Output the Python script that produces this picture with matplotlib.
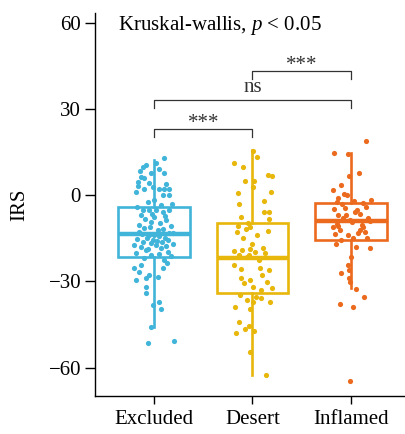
import matplotlib.pyplot as plt

plt.rcParams['font.family'] = ['Liberation Serif', 'DejaVu Serif']
plt.rcParams['mathtext.fontset'] = 'custom'
plt.rcParams['mathtext.it'] = 'Liberation Serif:italic'
plt.rcParams['mathtext.rm'] = 'Liberation Serif'

groups = ['Excluded', 'Desert', 'Inflamed']
colors = ['#41B4DA', '#E8B70C', '#EC6A1E']

# box statistics
q1 = [-21.5, -34.0, -15.6]
med = [-13.6, -22.0, -9.0]
q3 = [-4.2, -9.8, -2.9]
whis_lo = [-46.0, -62.6, -32.5]
whis_hi = [12.2, 15.6, 14.5]

# jittered points: horizontal offset, IRS value
excl_dx = [0.10, -0.11, 0.05, 0.10, -0.03, -0.13, -0.16, -0.10, -0.05, -0.01, -0.18, -0.10, 0.05, 0.10,
           0.15, 0.09, 0.15, 0.00, -0.11, -0.05, 0.02, 0.09, 0.15, -0.13, 0.00, -0.03, 0.12, -0.10,
           0.04, -0.15, 0.15, -0.05, 0.05, 0.19, -0.20, -0.11, -0.01, 0.02, 0.07, -0.08, 0.14, -0.03,
           0.17, -0.20, -0.13, -0.18, -0.08, 0.04, 0.09, 0.10, -0.05, -0.08, -0.08, 0.05, -0.01, 0.07,
           -0.03, -0.06, 0.20, -0.14, -0.08, 0.02, -0.16, 0.12, -0.06, 0.07, -0.17, 0.18, -0.02, 0.11,
           -0.09, 0.06, -0.15, 0.17, -0.04, 0.09, -0.12, 0.00, 0.11, -0.07, 0.14, -0.17, 0.03, -0.03,
           0.08, -0.13, 0.12, -0.06, 0.19, -0.18, 0.05, -0.10, 0.13, -0.15]
excl_y = [12.8, 9.8, 9.0, 7.6, 7.6, 6.3, 4.5, 5.9, 4.2, 2.8, 1.0, 2.0, 2.0, 2.0,
          2.0, 0.0, 0.0, -1.7, -5.2, -5.2, -5.2, -5.9, -5.2, -7.0, -7.6, -9.4, -8.7, -11.5,
          -12.2, -12.9, -13.2, -13.9, -14.3, -13.2, -17.4, -16.3, -15.6, -17.4, -18.4, -19.1, -19.8, -20.9,
          -21.2, -25.4, -24.3, -29.5, -28.8, -28.5, -25.4, -22.6, -27.8, -32.0, -34.0, -37.2, -38.2, -39.6,
          -45.8, -51.5, -50.7, 8.3, 10.5, 11.0, 3.3, 4.0, -2.5, -3.3, -4.0, -3.0, -6.5, -7.2,
          -8.2, -9.9, -10.5, -10.8, -11.0, -11.8, -13.5, -14.0, -14.8, -15.0, -15.8, -15.2, -16.0, -16.8,
          -16.5, -18.0, -17.6, -18.8, -16.9, -20.0, -20.5, -22.0, -23.8, -26.8]

des_dx = [0.01, 0.05, -0.19, -0.10, 0.16, 0.20, -0.08, 0.02, 0.01, -0.15, 0.19, -0.14, 0.12, 0.12,
          0.17, -0.12, 0.17, -0.15, -0.05, -0.03, -0.07, -0.16, 0.16, -0.19, -0.11, -0.03, 0.03, 0.11,
          0.00, -0.14, -0.04, -0.19, -0.12, 0.08, 0.17, 0.10, -0.12, -0.09, -0.02, 0.15, 0.01, 0.20,
          -0.13, 0.04, 0.09, 0.01, 0.18, -0.18, -0.02, -0.14, -0.04, -0.08, 0.02, -0.17, -0.03, 0.14,
          -0.06, 0.07, 0.13, -0.10, 0.05, 0.09, -0.06]
des_y = [15.3, 13.2, 11.1, 9.7, 7.0, 6.6, 4.9, 4.9, 2.8, 0.7, 1.0, -3.1, -2.1, -5.9,
         -5.9, -7.6, -8.3, -10.8, -9.7, -11.1, -11.8, -12.9, -12.5, -19.5, -19.1, -18.8, -19.8, -18.4,
         -17.0, -20.9, -20.9, -24.3, -25.7, -25.4, -26.0, -27.8, -28.8, -30.6, -29.5, -30.2, -32.0, -32.3,
         -34.8, -35.5, -35.8, -37.2, -37.2, -38.9, -39.6, -44.1, -45.5, -46.6, -47.3, -48.0, -54.6, -62.6,
         -21.5, -22.5, -20.0, -15.0, -14.0, -33.0, -36.5]

inf_dx = [0.15, -0.17, -0.03, 0.08, -0.02, -0.10, -0.18, -0.07, -0.04, -0.13, -0.14, 0.12, 0.20, -0.09,
          -0.17, 0.06, 0.15, 0.04, -0.13, -0.08, 0.17, -0.14, -0.01, 0.11, -0.18, -0.13, 0.12, 0.14,
          -0.03, 0.07, 0.02, -0.10, -0.15, 0.05, 0.19, -0.03, -0.10, -0.02, -0.01, 0.05, 0.13, -0.11,
          0.02, -0.01, 0.09, -0.05, 0.01, 0.19, -0.11, 0.09, -0.16, 0.16, -0.06, 0.03, 0.00, -0.02]
inf_y = [18.8, 14.6, 14.3, 7.6, 6.6, 3.5, 1.7, 0.3, 0.0, -1.0, -2.4, -2.8, -1.7, -3.1,
         -4.9, -5.2, -4.2, -5.9, -7.0, -8.0, -8.0, -10.0, -8.7, -10.4, -11.0, -10.8, -11.0, -12.9,
         -13.9, -13.2, -14.9, -15.6, -17.0, -18.0, -18.4, -24.3, -27.1, -28.8, -30.2, -32.7, -35.5, -37.9,
         -38.9, -64.7, -6.5, -6.8, -9.5, -9.0, -12.0, -12.2, -13.5, -15.0, -4.5, -2.0, -21.5, -26.0]

point_dx = [excl_dx, des_dx, inf_dx]
point_y = [excl_y, des_y, inf_y]

# pairwise comparisons: (left group, right group, bracket height, label)
comparisons = [(0, 1, 23.0, '***'), (0, 2, 33.0, 'ns'), (1, 2, 43.1, '***')]

fig = plt.figure(figsize=(4.05, 4.34), dpi=100)
ax = fig.add_axes([0.2346, 0.0876, 0.7654, 0.8824])

stats = []
for i, g in enumerate(groups):
    stats.append({'label': g, 'q1': q1[i], 'med': med[i], 'q3': q3[i],
                  'whislo': whis_lo[i], 'whishi': whis_hi[i], 'fliers': []})

for i in range(3):
    c = colors[i]
    ax.bxp([stats[i]], positions=[i], widths=0.73, showfliers=False, patch_artist=True,
           boxprops=dict(facecolor='white', edgecolor=c, linewidth=1.9),
           medianprops=dict(color=c, linewidth=3.2),
           whiskerprops=dict(color=c, linewidth=1.9),
           capprops=dict(linewidth=0), manage_ticks=False, zorder=2)
    xs = [i + d for d in point_dx[i]]
    ax.scatter(xs, point_y[i], s=14, color=c, linewidths=0, zorder=3)

for a, b, h, lab in comparisons:
    ax.plot([a, a, b, b], [h - 2.8, h, h, h - 2.8], color='#333333', linewidth=0.9)
    dy = 1.0 if lab == 'ns' else -1.4
    ax.text((a + b) / 2, h + dy, lab, ha='center', va='bottom', fontsize=15,
            color='#333333')

ax.text(-0.37, 59, r'Kruskal-wallis, $p$ < 0.05', ha='left', va='center', fontsize=15)

ax.set_xlim(-0.6, 2.55)
ax.set_ylim(-69.9, 63.3)
ax.set_xticks(range(3))
ax.set_xticklabels(groups)
ax.set_yticks([-60, -30, 0, 30, 60])
ax.set_ylabel('IRS', fontsize=15, labelpad=14)
ax.tick_params(axis='both', labelsize=15, length=7, width=1.0, colors='black')
ax.tick_params(axis='x', length=6, pad=4)
ax.tick_params(axis='y', pad=3)
for s in ['top', 'right']:
    ax.spines[s].set_visible(False)
for s in ['left', 'bottom']:
    ax.spines[s].set_linewidth(1.0)

fig.savefig('out.png', dpi=100)
